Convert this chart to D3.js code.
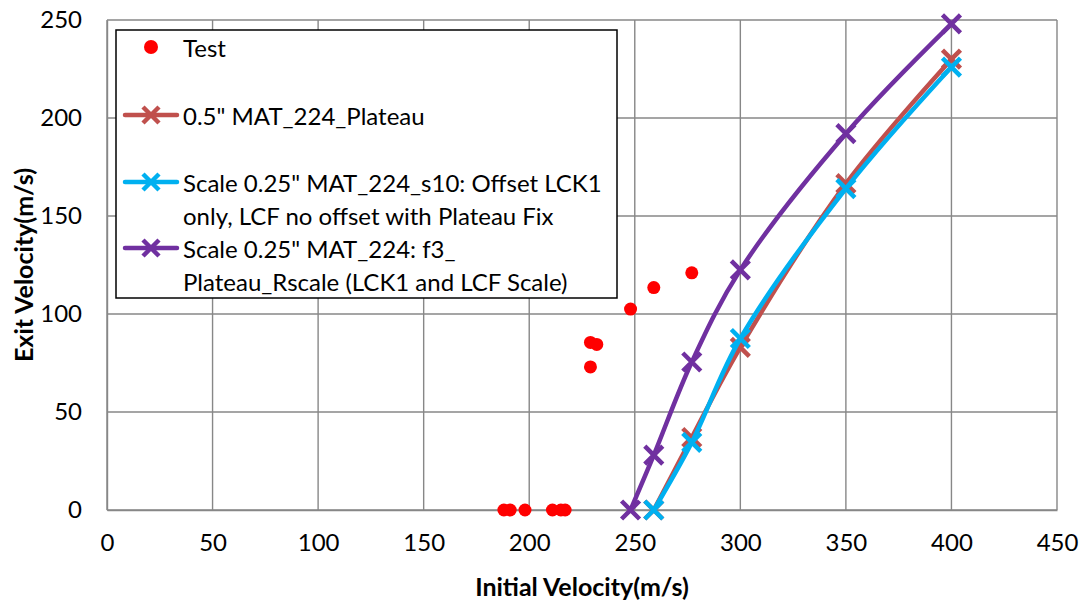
<!DOCTYPE html>
<html><head><meta charset="utf-8">
<script src="https://cdn.jsdelivr.net/npm/d3@7"></script>
<style>body{margin:0;background:#fff}svg{display:block}</style>
</head><body><svg id="c" width="1081" height="601"></svg>
<script>
const xTicks = [0,50,100,150,200,250,300,350,400,450];
const yTicks = [0,50,100,150,200,250];
const testX = [188,191,198,211,215,217,229,229,232,248,259,277];
const testY = [0,0,0,0,0,0,73,85.5,84.5,102.5,113.5,121];
const plateauX = [259,277,300,350,400];
const plateauY = [0,37,83,166.5,230];
const s10X = [259,277,300,350,400];
const s10Y = [0,34.5,87.5,164,226];
const f3X = [248,259,277,300,350,400];
const f3Y = [0,28,75.5,122.5,192,248];
const seriesNames = ["Test","0.5\" MAT_224_Plateau",
  ["Scale 0.25\" MAT_224_s10: Offset LCK1","only, LCF no offset with Plateau Fix"],
  ["Scale 0.25\" MAT_224: f3_","Plateau_Rscale (LCK1 and LCF Scale)"]];
const colors = {test:"#ff0000", plateau:"#c0504d", s10:"#00b0f0", f3:"#7030a0"};

const svg = d3.select("#c");
const L=107, T=20, R=1057, B=510;
const x = d3.scaleLinear().domain([0,450]).range([L,R]);
const y = d3.scaleLinear().domain([0,250]).range([B,T]);
const font = "Lato, 'Open Sans', sans-serif";
const grid = "#878787";

// gridlines
svg.append("g").selectAll("line").data(xTicks).join("line")
  .attr("x1",d=>x(d)).attr("x2",d=>x(d)).attr("y1",T).attr("y2",B)
  .attr("stroke",grid).attr("stroke-width",1.4);
svg.append("g").selectAll("line").data(yTicks).join("line")
  .attr("x1",L).attr("x2",R).attr("y1",d=>y(d)).attr("y2",d=>y(d))
  .attr("stroke",grid).attr("stroke-width",1.4);

// axes (labels only)
const xa = svg.append("g").attr("transform",`translate(0,${B})`)
  .call(d3.axisBottom(x).tickValues(xTicks).tickSize(0).tickPadding(24));
const ya = svg.append("g").attr("transform",`translate(${L},0)`)
  .call(d3.axisLeft(y).tickValues(yTicks).tickSize(0).tickPadding(25));
[xa,ya].forEach(a=>{a.select(".domain").attr("stroke",grid).attr("stroke-width",1.4);
  a.selectAll("text").attr("font-family",font).attr("font-size",24).attr("fill","#000");});

svg.append("text").attr("x",582).attr("y",586).attr("text-anchor","middle")
  .attr("dominant-baseline","central").attr("font-family",font).attr("font-weight","bold")
  .attr("font-size",25).text("Initial Velocity(m/s)");
svg.append("text").attr("transform",`translate(23,${(T+B)/2}) rotate(-90)`).attr("text-anchor","middle")
  .attr("dominant-baseline","central").attr("font-family",font).attr("font-weight","bold")
  .attr("font-size",25).text("Exit Velocity(m/s)");

// test points
svg.append("g").selectAll("circle").data(testX.map((v,i)=>[v,testY[i]])).join("circle")
  .attr("cx",d=>x(d[0])).attr("cy",d=>y(d[1])).attr("r",6.5).attr("fill",colors.test);

const line = d3.line().x(d=>x(d[0])).y(d=>y(d[1])).curve(d3.curveCatmullRom.alpha(0.5));
function cross(g,cx,cy,col,s){
  g.append("path").attr("d",`M${cx-s},${cy-s}L${cx+s},${cy+s}M${cx-s},${cy+s}L${cx+s},${cy-s}`)
   .attr("stroke",col).attr("stroke-width",4.5).attr("fill","none");
}
function series(xs,ys,col){
  const pts = xs.map((v,i)=>[v,ys[i]]);
  const g = svg.append("g");
  g.append("path").attr("d",line(pts)).attr("fill","none").attr("stroke",col).attr("stroke-width",4.5);
  pts.forEach(p=>cross(g,x(p[0]),y(p[1]),col,9));
}
series(plateauX,plateauY,colors.plateau);
series(s10X,s10Y,colors.s10);
series(f3X,f3Y,colors.f3);

// legend
const lg = svg.append("g");
lg.append("rect").attr("x",116).attr("y",30).attr("width",501).attr("height",268)
  .attr("fill","#fff").attr("stroke","#000").attr("stroke-width",1.5);
const tx = 183;
lg.append("circle").attr("cx",151).attr("cy",47).attr("r",7).attr("fill",colors.test);
const rows = [[115,colors.plateau,seriesNames[1]],[182,colors.s10,seriesNames[2]],[248,colors.f3,seriesNames[3]]];
lg.append("text").attr("x",tx).attr("y",47).attr("dominant-baseline","central")
  .attr("font-family",font).attr("font-size",24).text(seriesNames[0]);
rows.forEach(([cy,col,name])=>{
  lg.append("line").attr("x1",125).attr("x2",177).attr("y1",cy).attr("y2",cy)
    .attr("stroke",col).attr("stroke-width",4.5).attr("stroke-linecap","round");
  cross(lg,151,cy,col,8);
  const lines = Array.isArray(name)?name:[name];
  lines.forEach((t,i)=>lg.append("text").attr("x",tx).attr("y",cy+i*33).attr("dominant-baseline","central")
    .attr("font-family",font).attr("font-size",24).text(t));
});
</script></body></html>
